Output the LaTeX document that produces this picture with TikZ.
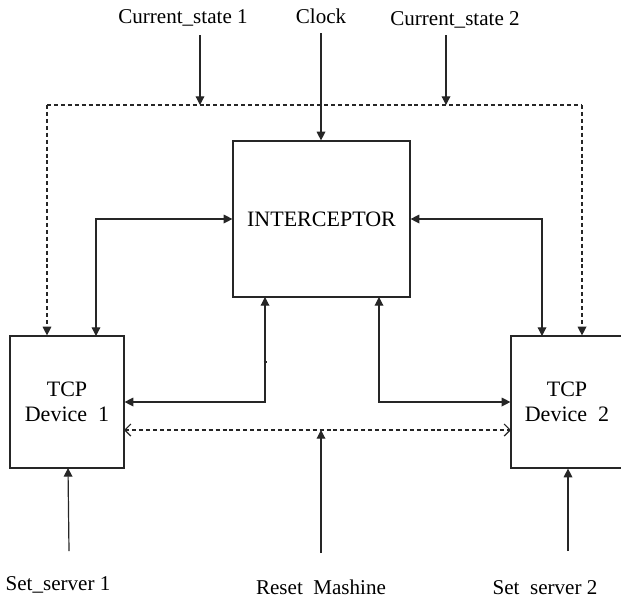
\documentclass[tikz,border=0pt]{standalone}
\usepackage{fontspec}
\setmainfont{Liberation Serif}
\usetikzlibrary{arrows.meta}
\begin{document}
\begin{tikzpicture}[x=0.75pt,y=-0.75pt,
  line/.style={draw=black!85, line width=0.9pt},
  arr/.style={line, -{Triangle[length=6.5pt,width=6.5pt]}},
  darr/.style={line, {Triangle[length=6.5pt,width=6.5pt]}-{Triangle[length=6.5pt,width=6.5pt]}},
  dline/.style={line, dash pattern=on 3pt off 2.2pt},
  darrdash/.style={dline, -{Triangle[length=6.5pt,width=6.5pt]}},
  openarr/.style={dline, {Straight Barb[length=4.5pt,width=9pt]}-{Straight Barb[length=4.5pt,width=9pt]}},
  blk/.style={line, fill=white, inner sep=0pt, align=center, font=\fontsize{16.5pt}{18.75pt}\selectfont},
  lbl/.style={anchor=base, inner sep=0pt, font=\fontsize{15.8pt}{19pt}\selectfont}]
\useasboundingbox (0,0) rectangle (621,597);
\clip (0,0) rectangle (621,597);
% blocks
\node[blk, minimum width=132.75pt, minimum height=117pt] (int) at (321.5,219) {INTERCEPTOR};
\node[blk, minimum width=85.5pt, minimum height=99pt] (tcp1) at (67,402) {TCP\\Device\ \ 1};
\node[blk, minimum width=84pt, minimum height=99pt] (tcp2) at (567,402) {TCP\\Device\ \ 2};
% labels
\node[lbl] (cs1) at (183,23) {Current\_state 1};
\node[lbl] (clk) at (321,23) {Clock};
\node[lbl] (cs2) at (455,25) {Current\_state 2};
\node[lbl] (ss1) at (58,590) {Set\_server 1};
\node[lbl] (rst) at (321,594) {Reset\ \ Mashine};
\node[lbl] (ss2) at (545,594) {Set\ \ server 2};
% coordinates
\coordinate (cs1t) at (200,35);
\coordinate (cs2t) at (446,35);
\coordinate (clkt) at (321,33);
\coordinate (fbL) at (47,105);
\coordinate (fbR) at (582,105);
\coordinate (fb1) at (200,105);
\coordinate (fb2) at (446,105);
\coordinate (tp1) at (96,336);
\coordinate (tp2) at (542,336);
\coordinate (ib1) at (265,297);
\coordinate (ib2) at (379,297);
\coordinate (d1) at (124,430);
\coordinate (d2) at (511,430);
\coordinate (rstt) at (321,553);
\coordinate (ss1t) at (69,551);
\coordinate (ss2t) at (568,551);
% feedback dashed loop
\draw[dline] (fbL) -- (fbR);
\draw[darrdash] (fbL) -- (fbL |- tcp1.north);
\draw[darrdash] (fbR) -- (fbR |- tcp2.north);
\draw[arr] (cs1t) -- (fb1);
\draw[arr] (cs2t) -- (fb2);
\draw[arr] (clkt) -- (clkt |- int.north);
% interceptor links
\draw[darr] (int.west) -| (tp1);
\draw[darr] (int.east) -| (tp2);
\draw[darr] (ib1) |- (tcp1.east);
\draw[darr] (ib2) |- (tcp2.west);
\draw[line] (263.5,362) -- (266.5,362);
% reset
\draw[openarr] (d1) -- (d2);
\draw[arr] (rstt) -- (rstt |- d1);
% set servers
\draw[arr] (ss1t) -- (68,468);
\draw[arr] (ss2t) -- (ss2t |- tcp2.south);
\end{tikzpicture}
\end{document}
